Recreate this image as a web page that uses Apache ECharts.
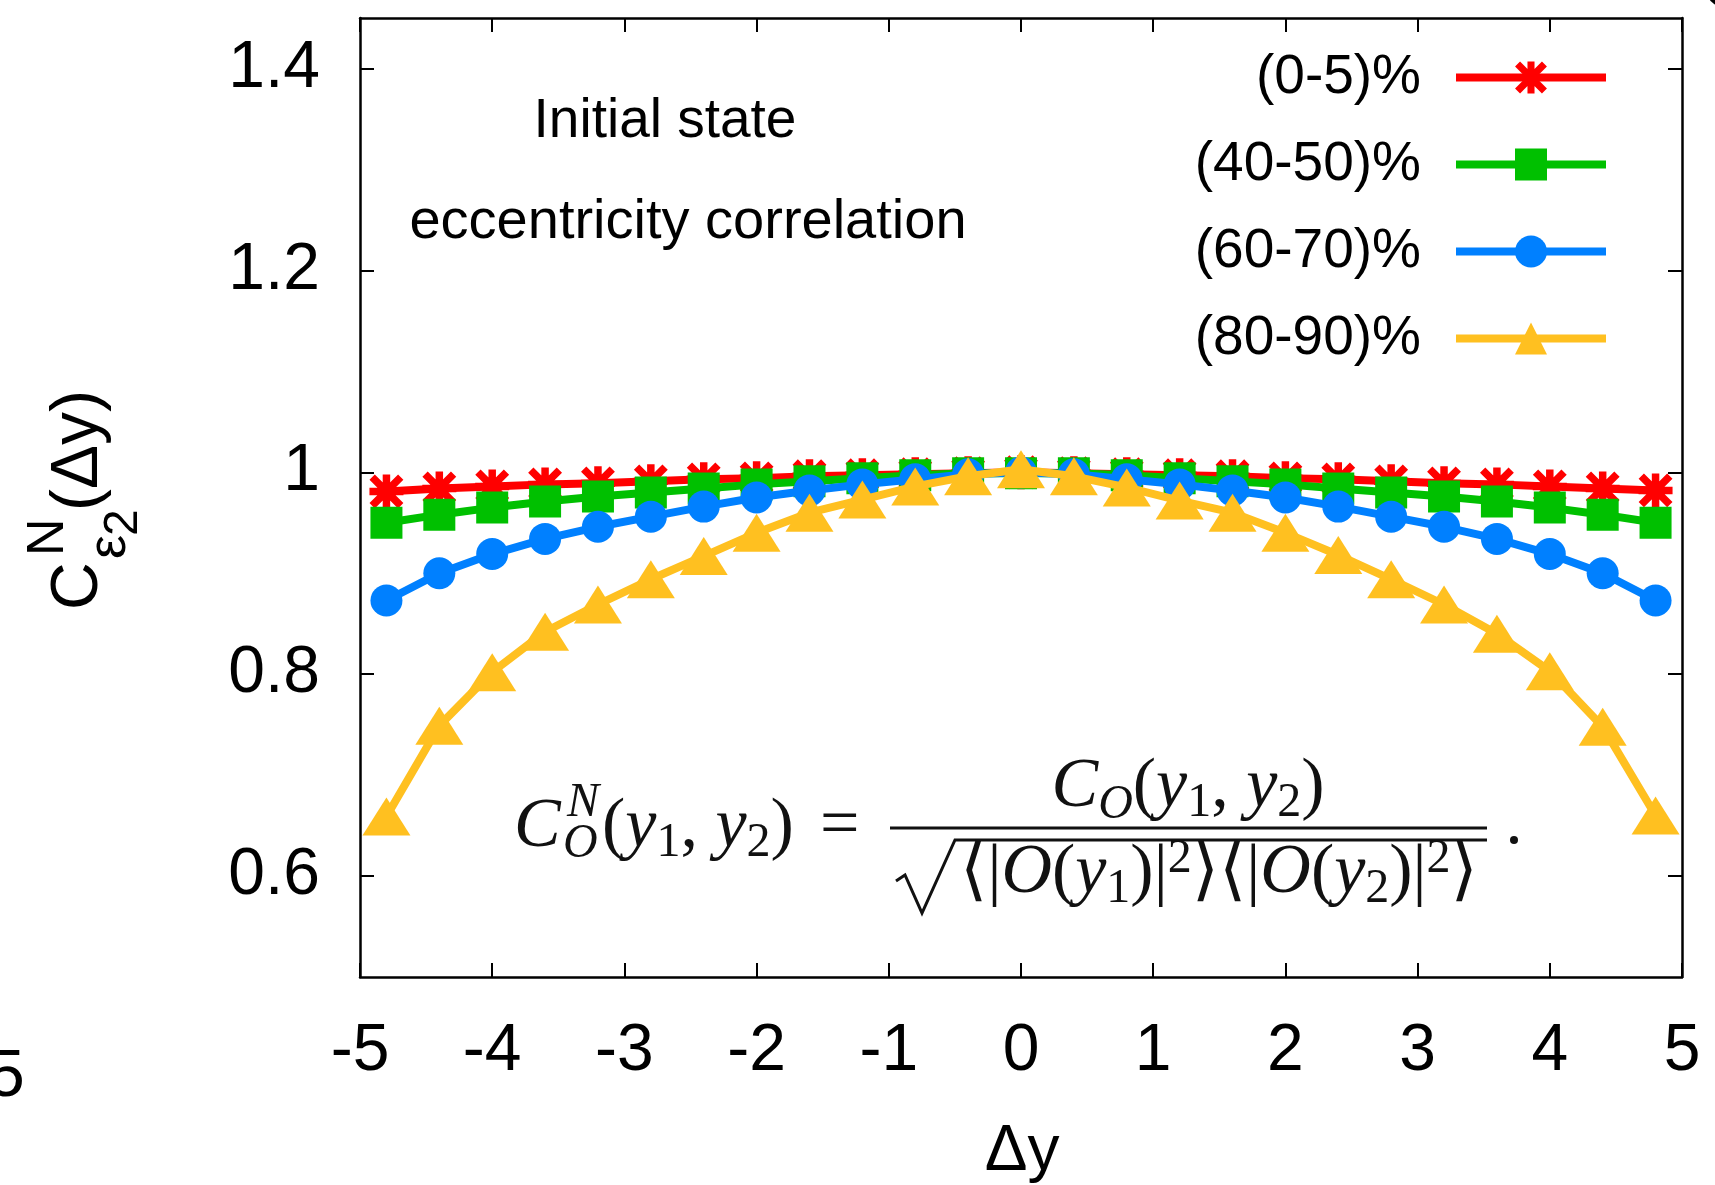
<!DOCTYPE html>
<html>
<head>
<meta charset="utf-8">
<script src="https://cdn.jsdelivr.net/npm/echarts@6/dist/echarts.min.js"></script>
<style>
  html, body { margin: 0; padding: 0; background: #fff; }
  #chart { width: 1715px; height: 1185px; }
</style>
</head>
<body>
<div id="chart"></div>
<script>
// ---------------- data ----------------
const dy = [-4.8, -4.4, -4.0, -3.6, -3.2, -2.8, -2.4, -2.0, -1.6, -1.2, -0.8, -0.4, 0,
            0.4, 0.8, 1.2, 1.6, 2.0, 2.4, 2.8, 3.2, 3.6, 4.0, 4.4, 4.8];

const c0_5 = [0.981, 0.984, 0.986, 0.988, 0.989, 0.991, 0.993, 0.994, 0.996, 0.997, 0.998, 0.999, 1.000,
              0.999, 0.998, 0.997, 0.996, 0.994, 0.993, 0.991, 0.989, 0.988, 0.986, 0.984, 0.982];
const c40_50 = [0.950, 0.958, 0.965, 0.971, 0.976, 0.980, 0.984, 0.988, 0.991, 0.994, 0.997, 0.999, 0.999,
                0.999, 0.997, 0.994, 0.991, 0.988, 0.984, 0.980, 0.976, 0.971, 0.965, 0.958, 0.950];
const c60_70 = [0.873, 0.900, 0.919, 0.934, 0.946, 0.956, 0.966, 0.975, 0.982, 0.988, 0.993, 0.998, 1.000,
                0.998, 0.993, 0.988, 0.982, 0.975, 0.966, 0.956, 0.946, 0.934, 0.919, 0.900, 0.873];
const c80_90 = [0.659, 0.749, 0.802, 0.842, 0.869, 0.894, 0.917, 0.940, 0.960, 0.973, 0.986, 0.996, 1.003,
                0.996, 0.985, 0.972, 0.960, 0.940, 0.918, 0.894, 0.869, 0.840, 0.803, 0.748, 0.660];

const seriesNames = ['(0-5)%', '(40-50)%', '(60-70)%', '(80-90)%'];
const xTickValues = [-5, -4, -3, -2, -1, 0, 1, 2, 3, 4, 5];
const yTickValues = [0.6, 0.8, 1.0, 1.2, 1.4];
const annotationLines = ['Initial state', 'eccentricity correlation'];

// ---------------- style ----------------
const SANS = 'Liberation Sans';
const SERIF = 'Liberation Serif';
const colors = ['#ff0000', '#00c000', '#0080ff', '#ffc020'];
const starPath = 'path://M39 0L61 0L61 100L39 100Z M0 39L100 39L100 61L0 61Z M15.8 0.2L99.8 84.2L84.2 99.8L0.2 15.8Z M84.2 0.2L99.8 15.8L15.8 99.8L0.2 84.2Z';
const symbols = [starPath, 'rect', 'circle', 'triangle'];
const symbolSizes = [34, 32, 32, [48, 38]];
const valueSets = [c0_5, c40_50, c60_70, c80_90];

const series = valueSets.map((vals, k) => ({
  name: seriesNames[k],
  type: 'line',
  z: 2 + k,
  data: dy.map((x, i) => [x, vals[i]]),
  symbol: symbols[k],
  symbolSize: symbolSizes[k],
  showSymbol: true,
  showAllSymbol: true,
  lineStyle: { color: colors[k], width: 8 },
  itemStyle: { color: colors[k], borderWidth: 0 },
  emphasis: { disabled: true },
  animation: false
}));

const frameLine = { show: true, onZero: false, lineStyle: { color: '#000', width: 2.5 } };
const innerTick = { show: true, inside: true, length: 14, lineStyle: { color: '#000', width: 2 } };

const FS = 70, FSS = 48;
const R = {
  n: { fontSize: FS, fontFamily: SERIF, fill: '#111' },
  i: { fontSize: FS, fontFamily: SERIF, fontStyle: 'italic', fill: '#111' },
  s: { fontSize: FSS, fontFamily: SERIF, fill: '#111', padding: [30, 0, 0, 0] },
  so: { fontSize: FSS, fontFamily: SERIF, fontStyle: 'italic', fill: '#111', padding: [34, 0, 0, 0] },
  p: { fontSize: FSS, fontFamily: SERIF, fill: '#111', padding: [0, 0, 30, 0] },
  a: { fontSize: FS, fontFamily: 'DejaVu Serif', fill: '#111' }
};

function txt(x, y, text, fs, extra) {
  return {
    type: 'text', x: x, y: y, silent: true,
    style: Object.assign({ text: text, fontSize: fs, fontFamily: SANS, fill: '#000', align: 'left', verticalAlign: 'middle' }, extra || {})
  };
}

const graphic = [
  // annotation
  txt(665, 122, annotationLines[0], 55, { align: 'center' }),
  txt(688, 223, annotationLines[1], 56, { align: 'center' }),
  // x axis title
  txt(1022, 1152, 'Δy', 64, { align: 'center' }),
  // y axis title (rotated)
  {
    type: 'group', x: 85, y: 500, rotation: Math.PI / 2, silent: true,
    children: [
      txt(-110, -6, 'C', 66),
      txt(-56, -36, 'N', 52),
      txt(-59, 25, 'ε', 54),
      txt(-36, 39, '2', 48),
      txt(-11, -6, '(Δy)', 66)
    ]
  },
  // stray fragments from neighbouring panels
  txt(-12, 1078, '5', 66),
  txt(1703, -9, 'C', 55),
  // formula
  txt(514, 828, 'C', FS, { fontFamily: SERIF, fontStyle: 'italic', fill: '#111' }),
  txt(567, 803, 'N', FSS, { fontFamily: SERIF, fontStyle: 'italic', fill: '#111' }),
  txt(563, 844, 'O', FSS, { fontFamily: SERIF, fontStyle: 'italic', fill: '#111' }),
  txt(602, 828, '{n|(}{i|y}{s|1}{n|, }{i|y}{s|2}{n|)}', FS, { rich: R }),
  txt(820, 828, '=', FS, { fontFamily: SERIF, fill: '#111' }),
  txt(1188, 788, '{i|C}{so|O}{n|(}{i|y}{s|1}{n|, }{i|y}{s|2}{n|)}', FS, { rich: R, align: 'center' }),
  { type: 'line', silent: true, shape: { x1: 890, y1: 828, x2: 1487, y2: 828 }, style: { stroke: '#111', lineWidth: 3 } },
  { type: 'polyline', silent: true, shape: { points: [[896, 881], [905, 875], [922, 913], [955, 840], [1487, 840]] },
    style: { stroke: '#111', lineWidth: 3, fill: null, lineJoin: 'miter' } },
  txt(1219, 874, '{a|⟨}{n||}{i|O}{n|(}{i|y}{s|1}{n|)|}{p|2}{a|⟩}{a|⟨}{n||}{i|O}{n|(}{i|y}{s|2}{n|)|}{p|2}{a|⟩}', FS, { rich: R, align: 'center' }),
  { type: 'circle', silent: true, shape: { cx: 1514, cy: 840, r: 4 }, style: { fill: '#111' } }
];

const chart = echarts.init(document.getElementById('chart'), null, { renderer: 'canvas' });
chart.setOption({
  animation: false,
  backgroundColor: '#fff',
  textStyle: { fontFamily: SANS },
  grid: { left: 360, right: 33, top: 18, bottom: 208, containLabel: false },
  xAxis: [
    {
      type: 'value', position: 'bottom', min: -5, max: 5, interval: 1,
      axisLine: frameLine, axisTick: innerTick, splitLine: { show: false },
      axisLabel: { show: true, fontSize: 66, color: '#000', margin: 42, fontFamily: SANS,
                   showMinLabel: true, showMaxLabel: true,
                   formatter: v => (xTickValues.indexOf(v) >= 0 ? String(v) : '') }
    },
    {
      type: 'value', position: 'top', min: -5, max: 5, interval: 1,
      axisLine: frameLine, axisTick: innerTick, splitLine: { show: false }, axisLabel: { show: false }
    }
  ],
  yAxis: [
    {
      type: 'value', position: 'left', min: 0.5, max: 1.45,
      axisLine: frameLine,
      axisTick: Object.assign({}, innerTick, { customValues: yTickValues }),
      splitLine: { show: false },
      axisLabel: { show: true, customValues: yTickValues, fontSize: 66, color: '#000', margin: 40, fontFamily: SANS,
                   formatter: v => String(Math.round(v * 10) / 10) }
    },
    {
      type: 'value', position: 'right', min: 0.5, max: 1.45,
      axisLine: frameLine,
      axisTick: Object.assign({}, innerTick, { customValues: yTickValues }),
      splitLine: { show: false }, axisLabel: { show: false }
    }
  ],
  legend: {
    data: seriesNames,
    orient: 'vertical', right: 105, top: 50, align: 'right',
    itemWidth: 150, itemHeight: 40, itemGap: 32, padding: 0,
    selectedMode: false,
    lineStyle: { width: 8 },
    textStyle: { fontSize: 55, fontFamily: SANS, color: '#000', lineHeight: 40, padding: [0, 30, 0, 0] }
  },
  series: series,
  graphic: graphic
});
</script>
</body>
</html>
